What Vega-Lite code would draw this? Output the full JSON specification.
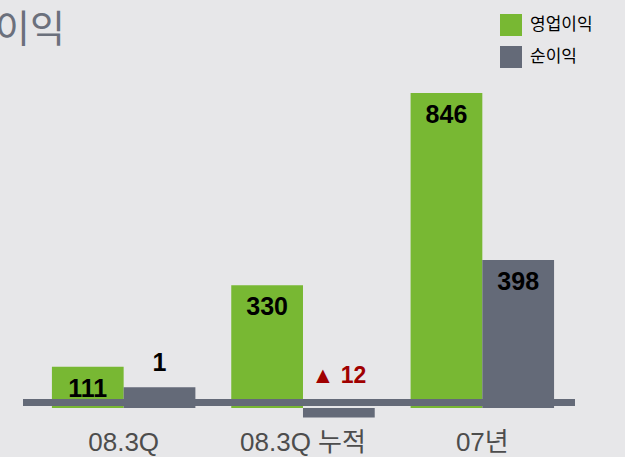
{
  "$schema": "https://vega.github.io/schema/vega-lite/v6.json",
  "width": 552,
  "height": 350,
  "autosize": {"type": "none"},
  "padding": {"left": 23, "top": 73, "right": 50, "bottom": 34},
  "background": "#e7e7e9",
  "title": {"text": "이익", "anchor": "start", "frame": "group", "dx": -28, "offset": -36, "fontSize": 38, "font": "Noto Sans CJK KR", "fontWeight": "normal", "color": "#6b707c"},
  "data": {"values": [
    {"period": "08.3Q", "series": "영업이익", "v": 111, "label": "111"},
    {"period": "08.3Q", "series": "순이익", "v": 56, "label": "1"},
    {"period": "08.3Q 누적", "series": "영업이익", "v": 330, "label": "330"},
    {"period": "08.3Q 누적", "series": "순이익", "v": -25, "label": "▲ 12"},
    {"period": "07년", "series": "영업이익", "v": 846, "label": "846"},
    {"period": "07년", "series": "순이익", "v": 398, "label": "398"}
  ]},
  "layer": [
    {
      "mark": {"type": "bar"},
      "encoding": {
        "x": {"field": "period", "type": "nominal", "sort": null, "title": null,
          "scale": {"paddingInner": 0.2, "paddingOuter": 0.139, "align": 0.58},
          "axis": {"domain": false, "ticks": false, "labelAngle": 0, "labelFontSize": 26, "labelFont": "Liberation Sans, Noto Sans CJK KR", "labelColor": "#4d4d4d", "labelPadding": 6}},
        "xOffset": {"field": "series", "type": "nominal", "sort": ["영업이익", "순이익"], "scale": {"paddingInner": 0, "paddingOuter": 0}},
        "y": {"field": "v", "type": "quantitative", "scale": {"domain": [-40, 900], "nice": false, "zero": false}, "axis": null},
        "color": {"field": "series", "type": "nominal", "title": null,
          "scale": {"domain": ["영업이익", "순이익"], "range": ["#78b833", "#646a78"]},
          "legend": {"orient": "none", "legendX": 477, "legendY": -59, "symbolType": "square", "symbolSize": 484, "symbolStrokeWidth": 0, "symbolOpacity": 1, "labelFontSize": 17, "labelFont": "Noto Sans CJK KR", "labelColor": "#000000", "rowPadding": 10, "labelOffset": 8}}
      }
    },
    {
      "data": {"values": [{}]},
      "mark": {"type": "rule", "color": "#646a78", "strokeWidth": 7},
      "encoding": {"y": {"datum": 15, "type": "quantitative"}}
    },
    {
      "transform": [{"filter": "datum.v > 100"}],
      "mark": {"type": "text", "baseline": "alphabetic", "dy": 30, "fontSize": 25, "fontWeight": "bold", "font": "Liberation Sans", "color": "#000000"},
      "encoding": {
        "x": {"field": "period", "type": "nominal", "sort": null},
        "xOffset": {"field": "series", "type": "nominal", "sort": ["영업이익", "순이익"]},
        "y": {"field": "v", "type": "quantitative"},
        "text": {"field": "label"}
      }
    },
    {
      "transform": [{"filter": "datum.v > 0 && datum.v < 100"}],
      "mark": {"type": "text", "baseline": "alphabetic", "dy": -16, "fontSize": 25, "fontWeight": "bold", "font": "Liberation Sans", "color": "#000000"},
      "encoding": {
        "x": {"field": "period", "type": "nominal", "sort": null},
        "xOffset": {"field": "series", "type": "nominal", "sort": ["영업이익", "순이익"]},
        "y": {"field": "v", "type": "quantitative"},
        "text": {"field": "label"}
      }
    },
    {
      "transform": [{"filter": "datum.v < 0"}],
      "mark": {"type": "text", "baseline": "alphabetic", "dy": -25, "fontSize": 23, "fontWeight": "bold", "font": "Liberation Sans, DejaVu Sans", "color": "#a00000"},
      "encoding": {
        "x": {"field": "period", "type": "nominal", "sort": null},
        "xOffset": {"field": "series", "type": "nominal", "sort": ["영업이익", "순이익"]},
        "y": {"datum": 0, "type": "quantitative"},
        "text": {"field": "label"}
      }
    }
  ],
  "config": {"view": {"stroke": null}}
}
